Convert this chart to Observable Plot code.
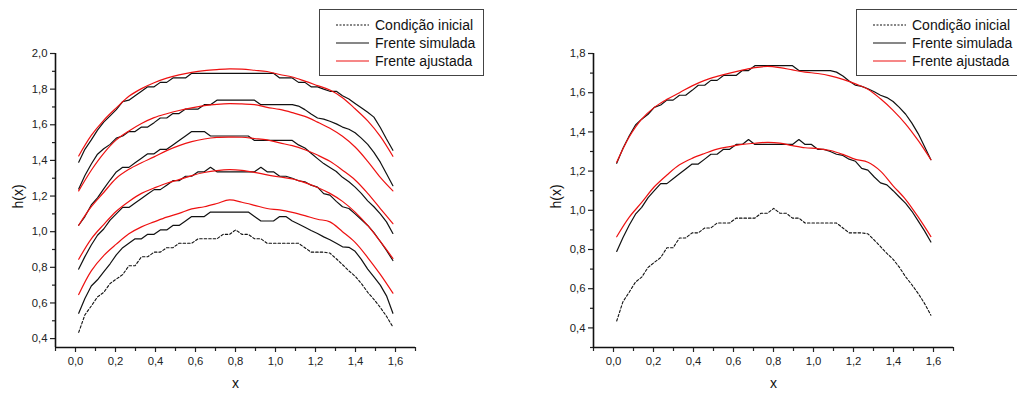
<!DOCTYPE html>
<html>
<head>
<meta charset="utf-8">
<script src="https://cdn.jsdelivr.net/npm/d3@7"></script>
<script src="https://cdn.jsdelivr.net/npm/@observablehq/plot@0.6"></script>
<style>
  body { margin: 0; width: 1017px; height: 394px; position: relative; overflow: hidden; background: #fff;
         font-family: "Liberation Sans", Arial, sans-serif; }
  .panel { position: absolute; top: 0; }
  .legend { position: absolute; top: 9px; height: 67px; border: 1px solid #444; background: #fff; box-sizing: border-box; }
  .legend .row { position: absolute; height: 18px; display: flex; align-items: center; font-size: 14px; color: #111; white-space: nowrap; }
  .legend svg { margin-right: 6px; }
</style>
</head>
<body>
<div id="left" class="panel" style="left:0"></div>
<div id="right" class="panel" style="left:508px"></div>
<script>
// grid of the simulated fronts (cell centres)
const xSim = [0.016, 0.047, 0.079, 0.110, 0.141, 0.173, 0.204, 0.236, 0.267, 0.298,
              0.330, 0.361, 0.393, 0.424, 0.456, 0.487, 0.518, 0.550, 0.581, 0.613,
              0.644, 0.675, 0.707, 0.738, 0.770, 0.801, 0.832, 0.864, 0.895, 0.927,
              0.958, 0.990, 1.021, 1.052, 1.084, 1.115, 1.147, 1.178, 1.210, 1.241,
              1.272, 1.304, 1.335, 1.367, 1.398, 1.429, 1.461, 1.492, 1.524, 1.555,
              1.587];

// grid of the fitted fronts
const xFit = [0.016, 0.079, 0.141, 0.204, 0.267, 0.330, 0.393, 0.456, 0.518, 0.581,
              0.644, 0.707, 0.770, 0.832, 0.895, 0.958, 1.021, 1.084, 1.147, 1.210,
              1.272, 1.335, 1.398, 1.461, 1.524, 1.587];

// initial condition
const hInicial = [0.435, 0.533, 0.583, 0.634, 0.659, 0.709, 0.734, 0.759, 0.809, 0.809,
                  0.859, 0.859, 0.885, 0.885, 0.910, 0.910, 0.935, 0.935, 0.935, 0.960,
                  0.960, 0.960, 0.960, 0.985, 0.985, 1.010, 0.985, 0.985, 0.960, 0.960,
                  0.935, 0.935, 0.935, 0.935, 0.935, 0.935, 0.910, 0.885, 0.885, 0.885,
                  0.880, 0.848, 0.815, 0.780, 0.750, 0.710, 0.660, 0.620, 0.575, 0.525,
                  0.465];

// simulated fronts
const hSim1 = [0.542, 0.625, 0.695, 0.730, 0.775, 0.820, 0.870, 0.910, 0.935, 0.960,
               0.960, 0.985, 0.985, 1.010, 1.010, 1.035, 1.035, 1.060, 1.085, 1.085,
               1.085, 1.110, 1.110, 1.110, 1.110, 1.110, 1.110, 1.110, 1.085, 1.060,
               1.060, 1.060, 1.085, 1.085, 1.060, 1.043, 1.025, 1.007, 0.990, 0.971,
               0.955, 0.935, 0.915, 0.912, 0.890, 0.845, 0.790, 0.747, 0.700, 0.640,
               0.542];
const hSim2 = [0.790, 0.860, 0.925, 0.980, 1.015, 1.065, 1.100, 1.136, 1.136, 1.161,
               1.186, 1.211, 1.236, 1.236, 1.261, 1.286, 1.286, 1.311, 1.311, 1.336,
               1.336, 1.361, 1.336, 1.336, 1.336, 1.336, 1.336, 1.336, 1.336, 1.361,
               1.336, 1.336, 1.311, 1.311, 1.300, 1.286, 1.280, 1.261, 1.250, 1.214,
               1.205, 1.170, 1.140, 1.130, 1.100, 1.068, 1.035, 0.995, 0.945, 0.895,
               0.838];
const hSim3 = [1.036, 1.085, 1.150, 1.190, 1.240, 1.290, 1.335, 1.361, 1.361, 1.387,
               1.412, 1.437, 1.437, 1.462, 1.462, 1.487, 1.512, 1.537, 1.562, 1.562,
               1.562, 1.537, 1.537, 1.537, 1.537, 1.537, 1.537, 1.537, 1.512, 1.512,
               1.512, 1.512, 1.512, 1.512, 1.512, 1.487, 1.470, 1.440, 1.410, 1.382,
               1.360, 1.338, 1.305, 1.280, 1.250, 1.215, 1.173, 1.140, 1.100, 1.055,
               0.990];
const hSim4 = [1.240, 1.315, 1.380, 1.435, 1.465, 1.490, 1.525, 1.537, 1.562, 1.562,
               1.587, 1.587, 1.612, 1.638, 1.638, 1.663, 1.663, 1.688, 1.688, 1.688,
               1.713, 1.713, 1.738, 1.738, 1.738, 1.738, 1.738, 1.738, 1.738, 1.713,
               1.713, 1.713, 1.713, 1.713, 1.713, 1.705, 1.685, 1.660, 1.638, 1.632,
               1.620, 1.605, 1.587, 1.575, 1.555, 1.525, 1.490, 1.445, 1.390, 1.325,
               1.258];
const hSim5 = [1.390, 1.462, 1.515, 1.570, 1.615, 1.650, 1.685, 1.730, 1.738, 1.763,
               1.788, 1.813, 1.813, 1.838, 1.838, 1.863, 1.863, 1.863, 1.889, 1.889,
               1.889, 1.889, 1.889, 1.889, 1.889, 1.889, 1.889, 1.889, 1.889, 1.889,
               1.889, 1.889, 1.863, 1.863, 1.863, 1.838, 1.838, 1.813, 1.813, 1.800,
               1.788, 1.788, 1.763, 1.745, 1.720, 1.695, 1.670, 1.643, 1.585, 1.520,
               1.457];

// fitted fronts, left panel
const hAjuste1 = [0.647, 0.780, 0.866, 0.930, 0.988, 1.027, 1.055, 1.082, 1.103, 1.128,
                  1.140, 1.158, 1.178, 1.165, 1.148, 1.130, 1.122, 1.108, 1.090, 1.070,
                  1.055, 1.000, 0.940, 0.855, 0.760, 0.655];
const hAjuste2 = [0.845, 0.960, 1.040, 1.115, 1.170, 1.215, 1.245, 1.272, 1.292, 1.315,
                  1.332, 1.343, 1.348, 1.344, 1.333, 1.319, 1.307, 1.296, 1.275, 1.248,
                  1.215, 1.170, 1.110, 1.035, 0.945, 0.850];
const hAjuste3 = [1.036, 1.140, 1.220, 1.300, 1.350, 1.387, 1.420, 1.455, 1.483, 1.505,
                  1.520, 1.529, 1.531, 1.530, 1.523, 1.515, 1.498, 1.483, 1.460, 1.430,
                  1.395, 1.345, 1.290, 1.215, 1.130, 1.045];
const hAjuste4 = [1.229, 1.345, 1.440, 1.515, 1.565, 1.607, 1.640, 1.662, 1.680, 1.695,
                  1.707, 1.715, 1.719, 1.717, 1.713, 1.698, 1.686, 1.668, 1.647, 1.615,
                  1.580, 1.535, 1.475, 1.395, 1.305, 1.229];
const hAjuste5 = [1.425, 1.540, 1.625, 1.695, 1.760, 1.803, 1.836, 1.862, 1.880, 1.894,
                  1.904, 1.910, 1.914, 1.912, 1.906, 1.899, 1.882, 1.868, 1.845, 1.820,
                  1.795, 1.752, 1.690, 1.622, 1.535, 1.423];

// fitted fronts, right panel
const hAjusteB2 = [0.865, 0.965, 1.040, 1.120, 1.180, 1.232, 1.265, 1.290, 1.312, 1.325,
                   1.336, 1.342, 1.347, 1.343, 1.330, 1.319, 1.315, 1.305, 1.285, 1.260,
                   1.245, 1.200, 1.125, 1.055, 0.965, 0.866];
const hAjusteB4 = [1.245, 1.375, 1.465, 1.525, 1.566, 1.600, 1.635, 1.663, 1.683, 1.700,
                   1.715, 1.728, 1.734, 1.728, 1.716, 1.705, 1.698, 1.686, 1.668, 1.645,
                   1.618, 1.569, 1.510, 1.440, 1.355, 1.258];

// axis ticks
const xMajor = [0.0, 0.2, 0.4, 0.6, 0.8, 1.0, 1.2, 1.4, 1.6];
const xMinor = [-0.1, 0.1, 0.3, 0.5, 0.7, 0.9, 1.1, 1.3, 1.5, 1.7];
const yMajorLeft = [0.4, 0.6, 0.8, 1.0, 1.2, 1.4, 1.6, 1.8, 2.0];
const yMinorLeft = [0.5, 0.7, 0.9, 1.1, 1.3, 1.5, 1.7, 1.9];
const yMajorRight = [0.4, 0.6, 0.8, 1.0, 1.2, 1.4, 1.6, 1.8];
const yMinorRight = [0.3, 0.5, 0.7, 0.9, 1.1, 1.3, 1.5, 1.7];

const legendLabels = ["Condição inicial", "Frente simulada", "Frente ajustada"];

const RED = "#ee1111";
const fmt = d => d3.format(".1f")(d).replace(".", ",");
const rows = (xs, hs) => xs.map((x, i) => ({x, h: hs[i]}));

function panel({width, marginLeft, marginRight, yDomain, yMajor, yMinor, sims, fits}) {
  const xDomain = [-0.1, 1.7];
  return Plot.plot({
    width, height: 394,
    marginLeft, marginRight, marginTop: 53, marginBottom: 47,
    style: {fontFamily: "'Liberation Sans', Arial, sans-serif", fontSize: "11.3px", color: "#222", background: "#fff", overflow: "visible"},
    x: {domain: xDomain},
    y: {domain: yDomain},
    marks: [
      Plot.axisX(xMajor, {tickSize: 5, tickPadding: 4, tickFormat: fmt, label: null, strokeWidth: 1.2}),
      Plot.axisX(xMinor, {tickSize: 4, tickFormat: () => "", label: null, strokeWidth: 1.2}),
      Plot.axisY(yMajor, {tickSize: 5, tickPadding: 3, tickFormat: fmt, label: null, strokeWidth: 1.2}),
      Plot.axisY(yMinor, {tickSize: 3, tickFormat: () => "", label: null, strokeWidth: 1.2}),
      Plot.ruleX([xDomain[0]], {stroke: "#111", strokeWidth: 1.6}),
      Plot.ruleY([yDomain[0]], {stroke: "#111", strokeWidth: 1.6}),
      Plot.line(rows(xSim, hInicial), {x: "x", y: "h", stroke: "#111", strokeWidth: 1.1, strokeDasharray: "2.5,2"}),
      ...sims.map(hs => Plot.line(rows(xSim, hs), {x: "x", y: "h", stroke: "#111", strokeWidth: 1.2})),
      ...fits.map(hs => Plot.line(rows(xFit, hs), {x: "x", y: "h", stroke: RED, strokeWidth: 1.2, curve: "catmull-rom"})),
      Plot.text(["x"], {frameAnchor: "bottom", dy: 40, fontSize: 14, fill: "#111"}),
      Plot.text(["h(x)"], {frameAnchor: "left", dx: -37, dy: 8, rotate: -90, fontSize: 14, fill: "#111"})
    ]
  });
}

document.getElementById("left").append(panel({
  width: 508, marginLeft: 55, marginRight: 93,
  yDomain: [0.35, 2.0], yMajor: yMajorLeft, yMinor: yMinorLeft,
  sims: [hSim1, hSim2, hSim3, hSim4, hSim5],
  fits: [hAjuste1, hAjuste2, hAjuste3, hAjuste4, hAjuste5]
}));
document.getElementById("right").append(panel({
  width: 509, marginLeft: 85, marginRight: 64,
  yDomain: [0.3, 1.8], yMajor: yMajorRight, yMinor: yMinorRight,
  sims: [hSim2, hSim4],
  fits: [hAjusteB2, hAjusteB4]
}));

// legend boxes
const styles = [
  {stroke: "#111", dash: "2,1.5"},
  {stroke: "#111", dash: null},
  {stroke: RED, dash: null}
];
function legend(left, width, lineLeft, lineWidth) {
  const box = document.createElement("div");
  box.className = "legend";
  box.style.left = left + "px";
  box.style.width = width + "px";
  legendLabels.forEach((label, i) => {
    const row = document.createElement("div");
    row.className = "row";
    row.style.left = lineLeft + "px";
    row.style.top = (6 + 18 * i) + "px";
    const s = styles[i];
    row.innerHTML = `<svg width="${lineWidth}" height="4"><line x1="0" x2="${lineWidth}" y1="2" y2="2" stroke="${s.stroke}" stroke-width="1.2" ${s.dash ? `stroke-dasharray="${s.dash}"` : ""}/></svg><span>${label}</span>`;
    box.append(row);
  });
  document.body.append(box);
}
legend(319, 165, 16, 33);
legend(856, 175, 16, 33);
</script>
</body>
</html>
